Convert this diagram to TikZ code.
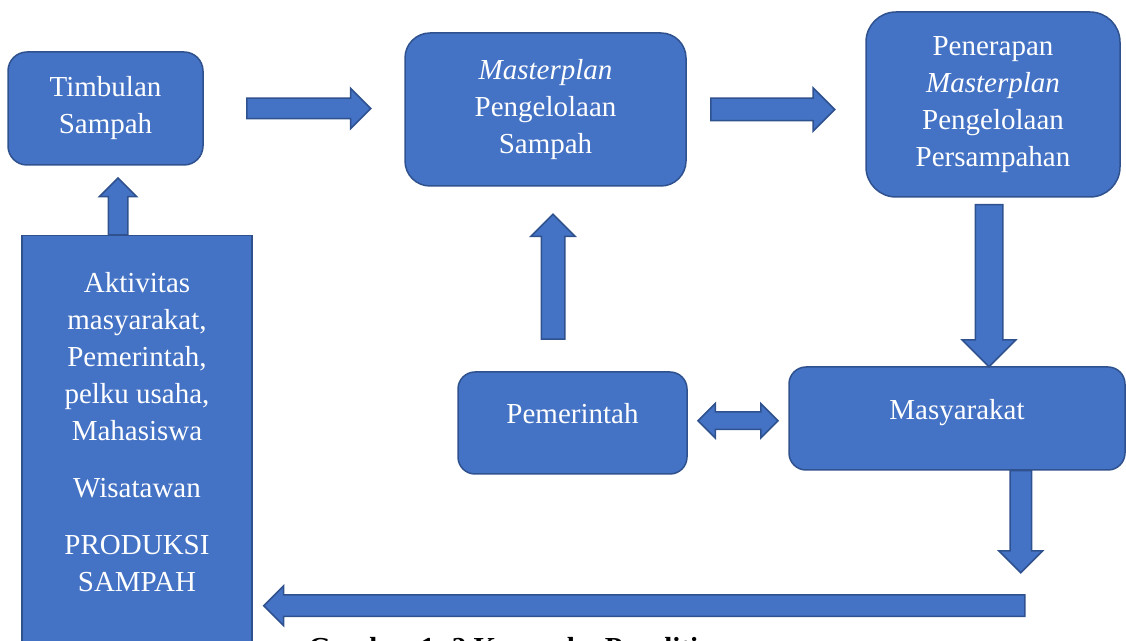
\documentclass[tikz,border=0pt]{standalone}
\usepackage{fontspec}
\setmainfont{Liberation Serif}
\usetikzlibrary{shapes.arrows,calc,positioning}
\definecolor{boxblue}{HTML}{4472C4}
\definecolor{edgeblue}{HTML}{2F528F}
\def\px{0.5pt}
\tikzset{
	box/.style={draw=edgeblue, fill=boxblue, line width=0.75pt, text=white,
		align=center, inner sep=0pt, font=\fontsize{14.5}{18.5}\selectfont},
	boxtext/.style={text=white, align=center, inner sep=0pt,
		font=\fontsize{14.5}{18.5}\selectfont},
	lowbox/.style={text height=10pt, text depth=9pt},
	% length / shaft / head, all in pixels
	blockarrow/.style n args={3}{single arrow, draw=edgeblue, fill=boxblue,
		line width=0.75pt, single arrow head indent=0pt, single arrow tip angle=90,
		inner xsep=0pt, inner ysep=#2*\px/2, outer sep=0pt, minimum height=#1*\px,
		single arrow head extend=(#3-#2)*\px/2},
	twoarrow/.style n args={3}{double arrow, draw=edgeblue, fill=boxblue,
		line width=0.75pt, double arrow head indent=0pt, double arrow tip angle=90,
		inner xsep=0pt, inner ysep=#2*\px/2, outer sep=0pt, minimum height=#1*\px,
		double arrow head extend=(#3-#2)*\px/2},
}
\begin{document}
\begin{tikzpicture}[x=0.5pt, y=-0.5pt]
	\useasboundingbox (0,0) rectangle (1126,641);
	\clip (0,0) rectangle (1126,641);
	% boxes
	\node[box, rounded corners=9.5pt, minimum width=195*\px, minimum height=113*\px]
		(timb) at (105.5,108.5) {Timbulan\\Sampah};
	\node[box, rounded corners=12.5pt, minimum width=281*\px, minimum height=153*\px]
		(plan) at (545.5,109.5) {\textit{Masterplan}\\Pengelolaan\\Sampah};
	\node[box, rounded corners=15pt, minimum width=254*\px, minimum height=185*\px]
		(terap) at (993,104.5) {Penerapan\\\textit{Masterplan}\\Pengelolaan\\Persampahan};
	\node[box, lowbox, rounded corners=8.5pt, minimum width=336*\px, minimum height=103*\px]
		(masy) at (957,418.5) {Masyarakat};
	\node[box, lowbox, rounded corners=8.5pt, minimum width=229*\px, minimum height=102*\px]
		(pemr) at (572.5,423) {Pemerintah};
	\node[box, minimum width=230*\px, minimum height=440*\px, anchor=north]
		(aktiv) at (137,235) {};
	\node[boxtext] (aktivtext) at (137,432)
		{Aktivitas\\masyarakat,\\Pemerintah,\\pelku usaha,\\Mahasiswa\\[10pt]
		Wisatawan\\[10pt]PRODUKSI\\SAMPAH};
	% arrows
	\node[blockarrow={124}{19}{39}, anchor=tail] (arr1) at ($(timb.east)+(43,0)$) {};
	\node[blockarrow={124}{21}{42}, anchor=tail] (arr2) at ($(plan.east)+(24,0)$) {};
	\node[blockarrow={162}{26}{52}, rotate=-90, anchor=tail] (arr3) at ($(terap.south)+(-4,7)$) {};
	\node[blockarrow={125}{22}{43}, rotate=90, anchor=tail] (arr4) at ($(pemr.north)+(-19.5,-32)$) {};
	\node[twoarrow={80}{16}{33}] (arr5) at ($(pemr.east)!0.5!(masy.west)$) {};
	\node[blockarrow={102}{20}{42}, rotate=-90, anchor=tail] (arr6) at ($(masy.south east)+(-105,0)$) {};
	\node[blockarrow={761}{20}{38}, rotate=180, anchor=tip] (arr7) at ($(aktiv.east |- arr6.tip)+(11,33)$) {};
	\node[blockarrow={57}{18}{36}, rotate=90, anchor=tail] (arr8) at ($(aktiv.north)+(-19,0)$) {};
	% caption
	\node[anchor=base west, inner sep=0pt, font=\fontsize{14.5}{18.5}\selectfont\bfseries]
		(caption) at (308,658) {Gambar 1. 2 Kerangka Penelitian};
\end{tikzpicture}
\end{document}
